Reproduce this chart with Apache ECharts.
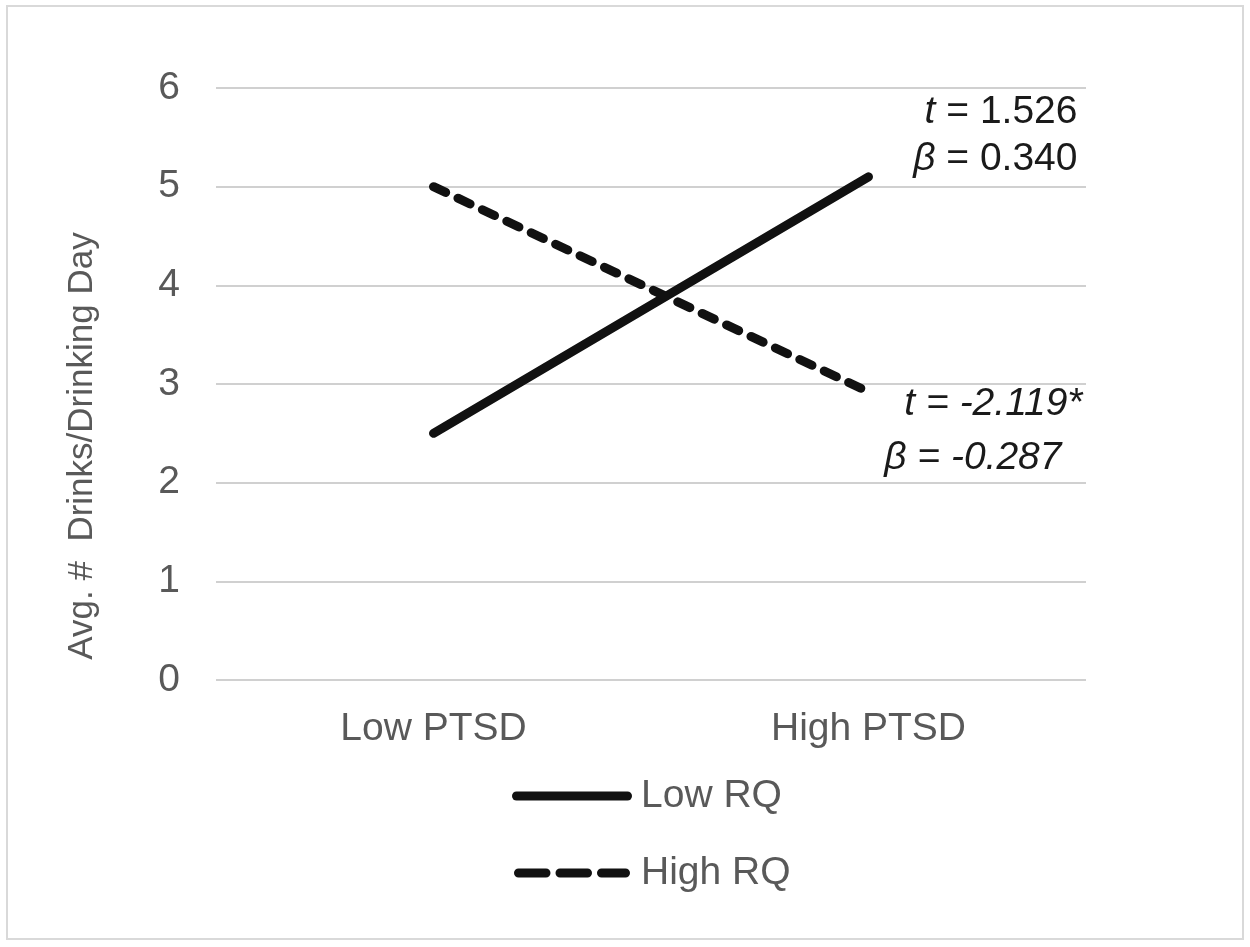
<!DOCTYPE html>
<html>
<head>
<meta charset="utf-8">
<script src="https://cdn.jsdelivr.net/npm/echarts@6/dist/echarts.min.js"></script>
<style>
html,body{margin:0;padding:0;background:#fff;}
#chart{width:1250px;height:947px;}
</style>
</head>
<body>
<div id="chart"></div>
<script>
const categories = ['Low PTSD', 'High PTSD'];
const seriesNames = ['Low RQ', 'High RQ'];
const lowRQ = [2.5, 5.1];
const highRQ = [5.0, 2.92];
const yTicks = [0, 1, 2, 3, 4, 5, 6];
const yTitle = 'Avg. #  Drinks/Drinking Day';
const annLow = { t: '1.526', b: '0.340' };
const annHigh = { t: '-2.119*', b: '-0.287' };

const FONT = '"Liberation Sans", Arial, sans-serif';
const TXT = '#595959';
const INK = '#111111';
const chart = echarts.init(document.getElementById('chart'), null, { renderer: 'canvas' });

const solidIcon = 'path://M4.5,0H115.5A4.5,4.5 0 0 1 115.5,9H4.5A4.5,4.5 0 0 1 4.5,0Z';
const dashIcon = 'path://M4.5,0H32A4.5,4.5 0 0 1 32,9H4.5A4.5,4.5 0 0 1 4.5,0Z M46,0H73.5A4.5,4.5 0 0 1 73.5,9H46A4.5,4.5 0 0 1 46,0Z M87.5,0H111.5A4.5,4.5 0 0 1 111.5,9H87.5A4.5,4.5 0 0 1 87.5,0Z';

const option = {
  backgroundColor: '#ffffff',
  animation: false,
  grid: { left: 216, right: 164, top: 88, bottom: 267, containLabel: false },
  xAxis: {
    type: 'category',
    data: categories,
    boundaryGap: true,
    axisLine: { show: false },
    axisTick: { show: false },
    axisLabel: { color: TXT, fontSize: 39, fontFamily: FONT, margin: 30 }
  },
  yAxis: {
    type: 'value',
    min: yTicks[0],
    max: yTicks[yTicks.length - 1],
    interval: 1,
    axisLine: { show: false },
    axisTick: { show: false },
    axisLabel: { color: TXT, fontSize: 39, fontFamily: FONT, margin: 36 },
    splitLine: { lineStyle: { color: '#d0d0d0', width: 2 } }
  },
  legend: {
    orient: 'vertical',
    left: 507,
    top: 771,
    itemWidth: 120,
    itemHeight: 9,
    itemGap: 37,
    textStyle: { color: TXT, fontSize: 39, fontFamily: FONT, lineHeight: 40, padding: [0, 0, 0, 4] },
    data: [
      { name: seriesNames[0], icon: solidIcon, itemStyle: { color: INK } },
      { name: seriesNames[1], icon: dashIcon, itemStyle: { color: INK } }
    ]
  },
  series: [
    {
      name: seriesNames[0],
      type: 'line',
      data: lowRQ,
      symbol: 'none',
      lineStyle: { color: INK, width: 9, cap: 'round' },
      itemStyle: { color: INK }
    },
    {
      name: seriesNames[1],
      type: 'line',
      data: highRQ,
      symbol: 'none',
      lineStyle: { color: INK, width: 9, cap: 'round', type: [13.5, 13.5] },
      itemStyle: { color: INK }
    }
  ]
};
chart.setOption(option);

const pLow = chart.convertToPixel({ xAxisIndex: 0, yAxisIndex: 0 }, [categories[1], lowRQ[1]]);
const pHigh = chart.convertToPixel({ xAxisIndex: 0, yAxisIndex: 0 }, [categories[1], highRQ[1]]);

function annText(x, y, rich, text) {
  return {
    type: 'text', x: x, y: y,
    style: { text: text, rich: rich, align: 'right', verticalAlign: 'middle', fill: '#1a1a1a', font: '39px ' + FONT }
  };
}
const richBase = {
  i: { fontStyle: 'italic', fontSize: 39, fontFamily: FONT, fill: '#1a1a1a' },
  n: { fontSize: 39, fontFamily: FONT, fill: '#1a1a1a' }
};

chart.setOption({
  graphic: [
    { type: 'rect', shape: { x: 7, y: 6, width: 1236, height: 933 }, style: { fill: 'none', stroke: '#d9d9d9', lineWidth: 2 }, silent: true },
    {
      type: 'text', x: 82, y: 446, rotation: Math.PI / 2,
      style: { text: yTitle, fill: TXT, font: '35px ' + FONT, align: 'center', verticalAlign: 'middle' }
    },
    annText(pLow[0] + 209, pLow[1] - 65, richBase, '{i|t}{n| = ' + annLow.t + '}'),
    annText(pLow[0] + 209, pLow[1] - 18, richBase, '{i|β}{n| = ' + annLow.b + '}'),
    annText(pHigh[0] + 214, pHigh[1] + 12, richBase, '{i|t = ' + annHigh.t + '}'),
    annText(pHigh[0] + 193, pHigh[1] + 66, richBase, '{i|β = ' + annHigh.b + '}')
  ]
});
</script>
</body>
</html>
